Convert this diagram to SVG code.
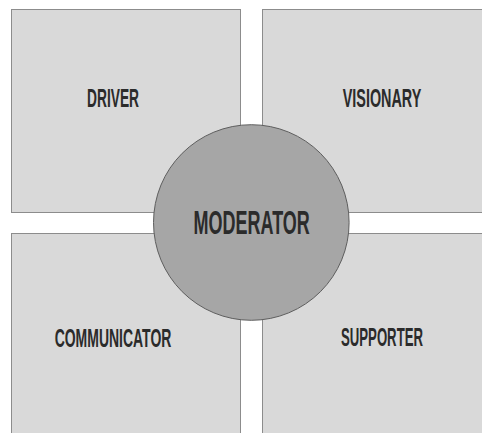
<svg xmlns="http://www.w3.org/2000/svg" width="482" height="433" viewBox="0 0 482 433">
  <style>
    .quad { fill: #d9d9d9; stroke: #8c8c8c; stroke-width: 1; }
    .hub { fill: #a6a6a6; stroke: #5e5e5e; stroke-width: 1; }
    .label { font-family: "Liberation Sans", Arial, sans-serif; font-weight: bold; fill: #2b2b2b; text-anchor: middle; }
    .small { font-size: 25px; }
    .big { font-size: 34px; }
  </style>
  <rect width="482" height="433" fill="#ffffff"/>

  <!-- four role quadrants; labels are horizontally condensed with scale() -->
  <g id="driver">
    <rect class="quad" x="11.5" y="9.5" width="229" height="203"/>
    <text class="label small" transform="translate(113 107) scale(0.551 1)">DRIVER</text>
  </g>
  <g id="visionary">
    <rect class="quad" x="262.5" y="9.5" width="240" height="203"/>
    <text class="label small" transform="translate(382 107) scale(0.575 1)">VISIONARY</text>
  </g>
  <g id="communicator">
    <rect class="quad" x="11.5" y="233.5" width="229" height="220"/>
    <text class="label small" transform="translate(113 346.5) scale(0.559 1)">COMMUNICATOR</text>
  </g>
  <g id="supporter">
    <rect class="quad" x="262.5" y="233.5" width="240" height="220"/>
    <text class="label small" transform="translate(382 346) scale(0.527 1)">SUPPORTER</text>
  </g>

  <!-- central hub -->
  <g id="moderator">
    <circle class="hub" cx="251.3" cy="222.5" r="97.8"/>
    <text class="label big" transform="translate(251.7 234.3) scale(0.529 1)">MODERATOR</text>
  </g>
</svg>
